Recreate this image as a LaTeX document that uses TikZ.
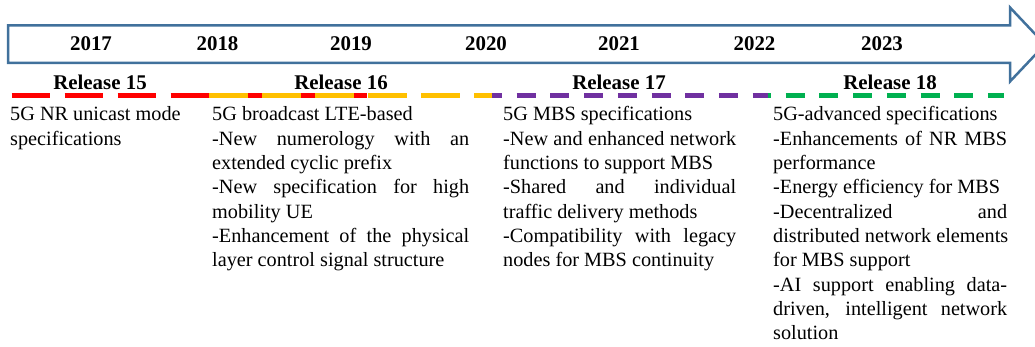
\documentclass[tikz,border=0pt]{standalone}
\usepackage{fontspec}
\setmainfont{Liberation Serif}
\usetikzlibrary{positioning}

\definecolor{arrowblue}{HTML}{41719C}
\definecolor{relred}{HTML}{FF0000}
\definecolor{relyellow}{HTML}{FFC000}
\definecolor{relpurple}{HTML}{7030A0}
\definecolor{relgreen}{HTML}{00B050}
\newcommand{\fillline}[1]{\makebox[\hsize][s]{\spaceskip=0.25em plus 1fil\relax #1}}

\begin{document}
\begin{tikzpicture}[x = 1pt, y = -1pt,
	yearlabel/.style = {font = \fontsize{20.9}{24}\selectfont\bfseries, inner sep = 0pt, anchor = base},
	longdash/.style = {line width = 5pt, dash pattern = on 38.5pt off 14.5pt},
	shortdash/.style = {line width = 5pt, dash pattern = on 19pt off 14.7pt},
	desc/.style = {font = \fontsize{20.25}{24.3}\selectfont, inner sep = 0pt, anchor = base west, align = left,
		execute at begin node = {\spaceskip=0.25em\relax}}]
	\useasboundingbox (0, 0) rectangle (1035, 347);
	\draw [arrowblue, line width = 2.5pt, fill = white] (8, 25.5) -- (1010, 25.5) -- (1010, 7.5) -- (1045, 44.5) -- (1010, 81.5) -- (1010, 63) -- (8, 63) -- cycle;
	\node [yearlabel] (y2017) at (91, 50.7) {2017};
	\node [yearlabel] (y2018) at (217.5, 50.7) {2018};
	\node [yearlabel] (y2019) at (351, 50.7) {2019};
	\node [yearlabel] (y2020) at (486, 50.7) {2020};
	\node [yearlabel] (y2021) at (619, 50.7) {2021};
	\node [yearlabel] (y2022) at (754.5, 50.7) {2022};
	\node [yearlabel] (y2023) at (882, 50.7) {2023};
	\node [yearlabel] (rel15) at (100, 89.3) {Release 15};
	\node [yearlabel] (rel16) at (341, 89.3) {Release 16};
	\node [yearlabel] (rel17) at (619, 89.3) {Release 17};
	\node [yearlabel] (rel18) at (890, 89.3) {Release 18};
	\draw [relred, longdash] (11.7, 95.8) -- (367, 95.8);
	\draw [relyellow, longdash] (209, 95.8) -- (492, 95.8);
	\draw [relpurple, shortdash, dash phase = 9pt] (492, 95.8) -- (768, 95.8);
	\draw [relgreen, shortdash, dash phase = 16pt] (768, 95.8) -- (1004, 95.8);
	\node [desc, text width = 190pt] (spec15) at (10, 121) {5G NR unicast mode\\specifications};
	\node [desc, text width = 257pt] (spec16) at (212, 121) {5G broadcast LTE-based\\
		\fillline{-New numerology with an}\\
		extended cyclic prefix\\
		\fillline{-New specification for high}\\
		mobility UE\\
		\fillline{-Enhancement of the physical}\\
		layer control signal structure};
	\node [desc, text width = 233pt] (spec17) at (503, 121) {5G MBS specifications\\
		\fillline{-New and enhanced network}\\
		functions to support MBS\\
		\fillline{-Shared and individual}\\
		traffic delivery methods\\
		\fillline{-Compatibility with legacy}\\
		nodes for MBS continuity};
	\node [desc, text width = 234pt] (spec18) at (773, 121) {5G-advanced specifications\\
		\fillline{-Enhancements of NR MBS}\\
		performance\\
		-Energy efficiency for MBS\\
		\fillline{-Decentralized and}\\
		\fillline{distributed network elements}\\
		for MBS support\\
		\fillline{-AI support enabling data-}\\
		\fillline{driven, intelligent network}\\
		solution};
\end{tikzpicture}
\end{document}
